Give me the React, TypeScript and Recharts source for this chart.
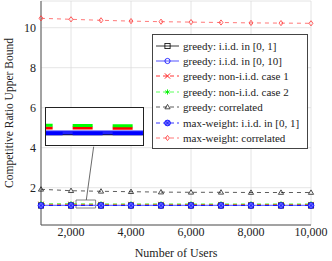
import { CartesianGrid, Line, LineChart, ReferenceArea, ReferenceLine, XAxis, YAxis } from "recharts"

const users = [1000, 2000, 3000, 4000, 5000, 6000, 7000, 8000, 9000, 10000]
const greedyIid01 = [1.11, 1.11, 1.11, 1.11, 1.11, 1.11, 1.11, 1.11, 1.11, 1.11]
const greedyIid010 = [1.12, 1.12, 1.12, 1.12, 1.12, 1.12, 1.12, 1.12, 1.12, 1.12]
const greedyNonIid1 = [1.17, 1.17, 1.165, 1.165, 1.165, 1.16, 1.16, 1.16, 1.16, 1.16]
const greedyNonIid2 = [1.2, 1.2, 1.19, 1.19, 1.19, 1.19, 1.19, 1.19, 1.19, 1.19]
const greedyCorrelated = [1.92, 1.85, 1.82, 1.8, 1.78, 1.77, 1.77, 1.76, 1.76, 1.76]
const maxWeightIid01 = [1.11, 1.11, 1.11, 1.11, 1.11, 1.11, 1.11, 1.11, 1.11, 1.11]
const maxWeightCorrelated = [10.47, 10.42, 10.37, 10.33, 10.3, 10.28, 10.26, 10.24, 10.23, 10.22]

const xTicks = [2000, 4000, 6000, 8000, 10000]
const yTicks = [2, 4, 6, 8, 10]

const data = users.map((u, i) => ({
  users: u,
  g01: greedyIid01[i],
  g010: greedyIid010[i],
  gn1: greedyNonIid1[i],
  gn2: greedyNonIid2[i],
  gc: greedyCorrelated[i],
  mw01: maxWeightIid01[i],
  mwc: maxWeightCorrelated[i],
}))

const FONT = "Liberation Serif, Times New Roman, Tinos, DejaVu Serif, serif"

type MarkKind = "square" | "circle" | "x" | "star" | "triangle" | "otimes" | "diamond"

function Mark({ kind, cx, cy, color }: { kind: MarkKind; cx: number; cy: number; color: string }) {
  const s = 2.6
  switch (kind) {
    case "square":
      return <rect x={cx - s} y={cy - s} width={2 * s} height={2 * s} fill="none" stroke={color} strokeWidth={0.8} />
    case "circle":
      return <circle cx={cx} cy={cy} r={s} fill="none" stroke={color} strokeWidth={0.8} />
    case "x":
      return (
        <g stroke={color} strokeWidth={0.9}>
          <line x1={cx - s} y1={cy - s} x2={cx + s} y2={cy + s} />
          <line x1={cx - s} y1={cy + s} x2={cx + s} y2={cy - s} />
        </g>
      )
    case "star":
      return (
        <g stroke={color} strokeWidth={0.9}>
          <line x1={cx} y1={cy - s} x2={cx} y2={cy + s} />
          <line x1={cx - s * 0.87} y1={cy - s / 2} x2={cx + s * 0.87} y2={cy + s / 2} />
          <line x1={cx - s * 0.87} y1={cy + s / 2} x2={cx + s * 0.87} y2={cy - s / 2} />
        </g>
      )
    case "triangle":
      return (
        <polygon
          points={`${cx},${cy - s} ${cx - s},${cy + s * 0.7} ${cx + s},${cy + s * 0.7}`}
          fill="none"
          stroke={color}
          strokeWidth={0.8}
        />
      )
    case "otimes":
      return (
        <g>
          <circle cx={cx} cy={cy} r={s + 0.3} fill="#7b7bff" stroke={color} strokeWidth={0.8} />
          <line x1={cx - 1.9} y1={cy - 1.9} x2={cx + 1.9} y2={cy + 1.9} stroke={color} strokeWidth={0.8} />
          <line x1={cx - 1.9} y1={cy + 1.9} x2={cx + 1.9} y2={cy - 1.9} stroke={color} strokeWidth={0.8} />
        </g>
      )
    case "diamond":
      return (
        <polygon
          points={`${cx},${cy - s} ${cx + s * 0.75},${cy} ${cx},${cy + s} ${cx - s * 0.75},${cy}`}
          fill="none"
          stroke={color}
          strokeWidth={0.8}
        />
      )
  }
}

const series = [
  { key: "g01", name: "greedy: i.i.d. in [0, 1]", color: "#000000", line: "#222222", dash: undefined, width: 0.9, mark: "square" as MarkKind },
  { key: "g010", name: "greedy: i.i.d. in [0, 10]", color: "#0000ff", line: "#6f6fff", dash: undefined, width: 1.2, mark: "circle" as MarkKind },
  { key: "gn1", name: "greedy: non-i.i.d. case 1", color: "#ff0000", line: "#ff0000", dash: "4 4", width: 0.8, mark: "x" as MarkKind },
  { key: "gn2", name: "greedy: non-i.i.d. case 2", color: "#00ee00", line: "#33ff33", dash: "4 4", width: 0.8, mark: "star" as MarkKind },
  { key: "gc", name: "greedy: correlated", color: "#222222", line: "#333333", dash: "4 4", width: 0.8, mark: "triangle" as MarkKind },
  { key: "mw01", name: "max-weight: i.i.d. in [0, 1]", color: "#0000ff", line: "#0000ff", dash: "4 4", width: 0.8, mark: "otimes" as MarkKind },
  { key: "mwc", name: "max-weight: correlated", color: "#ff3333", line: "#ff5555", dash: "4 4", width: 0.8, mark: "diamond" as MarkKind },
]

function LegendBox() {
  return (
    <div
      style={{
        position: "absolute",
        left: 152,
        top: 34,
        width: 156,
        height: 115,
        boxSizing: "border-box",
        border: "1px solid #444",
        background: "#fff",
        padding: "3px 0 0 3px",
        fontFamily: FONT,
        fontSize: 11,
        color: "#222",
        whiteSpace: "nowrap",
      }}
    >
      {series.map((s) => (
        <div key={s.key} style={{ display: "flex", alignItems: "center", height: 15.4 }}>
          <svg width={24} height={10} style={{ marginRight: 3, flexShrink: 0 }}>
            <line x1={0} y1={5} x2={23} y2={5} stroke={s.line} strokeWidth={s.width} strokeDasharray={s.dash ? "4 3" : undefined} />
            <Mark kind={s.mark} cx={11.5} cy={5} color={s.color} />
          </svg>
          <span>{s.name}</span>
        </div>
      ))}
    </div>
  )
}

function Inset() {
  return (
    <div
      style={{
        position: "absolute",
        left: 45,
        top: 107,
        width: 99,
        height: 39,
        boxSizing: "border-box",
        border: "1px solid #222",
        background: "#fff",
      }}
    >
      <LineChart width={97} height={37} data={data} margin={{ top: 0, right: 0, bottom: 0, left: 0 }}>
        <XAxis dataKey="users" type="number" domain={[2167, 2820]} allowDataOverflow hide />
        <YAxis type="number" domain={[0.985, 1.385]} allowDataOverflow hide />
        <Line dataKey="g01" stroke="#000" strokeWidth={3.5} dot={false} isAnimationActive={false} />
        <Line dataKey="g010" stroke="#2020ff" strokeWidth={4} dot={false} isAnimationActive={false} />
        <Line dataKey="gn1" stroke="#ff0000" strokeWidth={3} strokeDasharray="20 20" dot={false} isAnimationActive={false} />
        <Line dataKey="gn2" stroke="#00ff00" strokeWidth={3} strokeDasharray="20 20" dot={false} isAnimationActive={false} />
        <Line dataKey="mw01" stroke="#0000ff" strokeWidth={3.5} strokeDasharray="30 10" dot={false} isAnimationActive={false} />
      </LineChart>
    </div>
  )
}

export default function App() {
  return (
    <div style={{ position: "absolute", left: 0, top: 0, width: 332, height: 261, background: "#fff", fontFamily: FONT }}>
      <LineChart width={332} height={261} data={data} margin={{ top: 1, right: 21, bottom: 0, left: 1 }} style={{ fontFamily: FONT }}>
        <CartesianGrid stroke="#dddddd" strokeWidth={0.8} />
        <XAxis
          dataKey="users"
          type="number"
          domain={[1000, 10000]}
          ticks={xTicks}
          tickFormatter={(v) => v.toLocaleString("en-US")}
          height={36}
          stroke="#555"
          tickLine={false}
          tickSize={0}
          tick={{ fill: "#222", fontSize: 12, fontFamily: FONT }}
          tickMargin={2}
          label={{ value: "Number of Users", position: "insideBottom", offset: 4, fill: "#222", fontSize: 12, fontFamily: FONT }}
        />
        <YAxis
          type="number"
          domain={[0.135, 11.335]}
          ticks={yTicks}
          width={40}
          stroke="#555"
          tickLine={false}
          tickSize={0}
          tick={{ fill: "#222", fontSize: 12, fontFamily: FONT }}
          tickMargin={5}
          label={{
            value: "Competitive Ratio Upper Bound",
            angle: -90,
            position: "insideLeft",
            offset: 8,
            style: { textAnchor: "middle", fontFamily: FONT },
            fill: "#222",
            fontSize: 11.5,
          }}
        />
        <ReferenceArea fill="none" stroke="#555" strokeWidth={1} ifOverflow="visible" />
        {series.map((s) => (
          <Line
            key={s.key}
            dataKey={s.key}
            name={s.name}
            stroke={s.line}
            strokeWidth={s.width}
            strokeDasharray={s.dash}
            isAnimationActive={false}
            dot={(p: any) => <Mark key={`${s.key}-${p.index}`} kind={s.mark} cx={p.cx} cy={p.cy} color={s.color} />}
          />
        ))}
        <ReferenceArea x1={2167} x2={2820} y1={0.985} y2={1.385} fill="none" stroke="#666" strokeWidth={0.8} />
        <ReferenceLine
          segment={[
            { x: 2755, y: 4.05 },
            { x: 2510, y: 1.385 },
          ]}
          stroke="#444"
          strokeWidth={0.8}
        />
      </LineChart>
      <Inset />
      <LegendBox />
    </div>
  )
}
